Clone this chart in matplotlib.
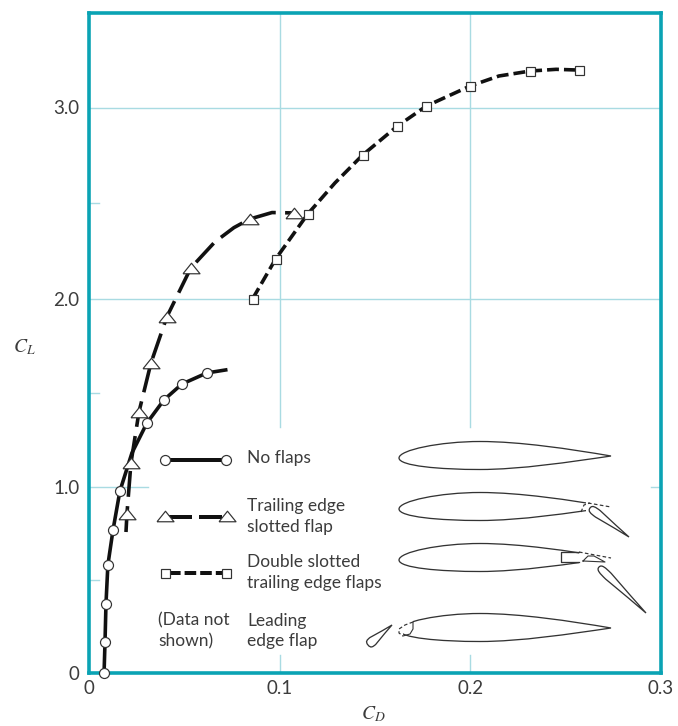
"""
Lift vs drag polar for an airfoil with different flap configurations
"""
import matplotlib
matplotlib.use('Agg')
import matplotlib.pyplot as plt
from matplotlib.patches import PathPatch, Rectangle
from matplotlib.path import Path
import numpy as np

# No flaps
cd_noflap = [0.0079, 0.0084, 0.0089, 0.0099, 0.0126, 0.0162, 0.0304, 0.0393, 0.0487, 0.0618]
cl_noflap = [0.0, 0.167, 0.371, 0.581, 0.769, 0.978, 1.34, 1.462, 1.546, 1.605]
cd_noflap_line = [0.0079, 0.0084, 0.0089, 0.0099, 0.0126, 0.0162, 0.0225, 0.0304, 0.0393, 0.0487,
                  0.0618, 0.0717]
cl_noflap_line = [0.0, 0.167, 0.371, 0.581, 0.769, 0.978, 1.18, 1.34, 1.462, 1.546, 1.605, 1.621]

# Trailing edge slotted flap
cd_slotted = [0.0199, 0.022, 0.0262, 0.0325, 0.0408, 0.0534, 0.0843, 0.1073]
cl_slotted = [0.855, 1.127, 1.398, 1.658, 1.902, 2.16, 2.416, 2.448]
cd_slotted_line = [0.0194, 0.0199, 0.022, 0.0262, 0.0325, 0.0408, 0.0534, 0.0660, 0.0760, 0.0843,
                   0.0960, 0.1073]
cl_slotted_line = [0.758, 0.855, 1.127, 1.398, 1.658, 1.902, 2.16, 2.296, 2.371, 2.416, 2.45, 2.448]

# Double slotted trailing edge flaps
cd_double = [0.0859, 0.0979, 0.1147, 0.1435, 0.1618, 0.177, 0.2, 0.2314, 0.2571]
cl_double = [2.0, 2.207, 2.442, 2.751, 2.903, 3.008, 3.113, 3.191, 3.196]
cd_double_line = [0.0859, 0.0979, 0.1147, 0.1290, 0.1435, 0.1618, 0.177, 0.2, 0.2150, 0.2314,
                  0.2450, 0.2571]
cl_double_line = [2.0, 2.207, 2.442, 2.605, 2.751, 2.903, 3.008, 3.113, 3.165, 3.191, 3.2, 3.196]

x_ticks = [0, 0.1, 0.2, 0.3]
x_ticklabels = ['0', '0.1', '0.2', '0.3']
y_ticks = [0, 1.0, 2.0, 3.0]
y_ticklabels = ['0', '1.0', '2.0', '3.0']

# the printed y axis is not quite even, so follow its tick spacing
y_scale_cl = [0, 1.0, 2.0, 3.0, 3.495]
y_scale_pos = [0, 186, 374.5, 565.5, 660]

TEAL = '#0aa3b4'
GRID = '#a9dbe2'
INK = '#111111'
TEXT = '#3c3c3c'
SKETCH = '#333333'
FONT = 'Lato'
W, H = 678, 726
X0, X1, Y0, Y1 = 89, 661, 673, 13
TRIANGLE = [(-1, -0.62), (1, -0.62), (0, 0.62), (-1, -0.62)]


def px(v):
    return v * 0.72


def airfoil_path(y_off):
    verts = [(399, 458), (399, 450), (440, 441.5), (480, 441.5),
             (520, 441.5), (570, 449), (611, 456),
             (570, 462), (520, 469.5), (480, 469.5),
             (440, 469.5), (399, 466), (399, 458)]
    codes = [Path.MOVETO] + [Path.CURVE4] * 12
    return Path([(x, y + y_off) for x, y in verts], codes)


def teardrop_path(nose, tail, width):
    nose, tail = np.array(nose, float), np.array(tail, float)
    d = tail - nose
    n = np.array([-d[1], d[0]]) / np.hypot(*d) * width / 2
    verts = [nose, nose + n * 1.0, nose + d * 0.08 + n, nose + d * 0.2 + n,
             nose + d * 0.5 + n * 0.6, nose + d * 0.8 + n * 0.2, tail,
             nose + d * 0.8 - n * 0.2, nose + d * 0.5 - n * 0.6, nose + d * 0.2 - n,
             nose + d * 0.08 - n, nose - n * 1.0 + d * 0.0, nose]
    return Path(verts, [Path.MOVETO] + [Path.CURVE4] * 12)


def draw_sketches(ov):
    style = dict(fc='none', ec=SKETCH, lw=px(1.3), zorder=5)
    dash = dict(color=SKETCH, lw=px(1.2), ls=(0, (3, 2)), zorder=5)

    # plain airfoil
    ov.add_patch(PathPatch(airfoil_path(0), **style))

    # slotted flap
    p = PathPatch(airfoil_path(51), **style)
    ov.add_patch(p)
    p.set_clip_path(Rectangle((395, 480), 191, 50, transform=ov.transData))
    ov.plot([588, 611], [503, 507], **dash)
    ov.plot([581, 584, 590], [512, 505, 503], **dash)
    ov.add_patch(PathPatch(teardrop_path((590, 508), (629, 537), 8), **style))

    # double slotted flap
    p = PathPatch(airfoil_path(102), **style)
    ov.add_patch(p)
    p.set_clip_path(Rectangle((395, 530), 184, 50, transform=ov.transData))
    ov.plot([579, 561, 561, 579], [552, 552, 562, 562], color=SKETCH, lw=px(1.3), zorder=5)
    ov.plot([579, 611], [552, 558], **dash)
    ov.plot([583, 588, 594, 605, 583], [561, 556, 556, 562, 561], color=SKETCH, lw=px(1.1), zorder=5)
    ov.add_patch(PathPatch(teardrop_path((599, 567), (646, 613), 8), **style))

    # leading edge flap, upper and lower surfaces stop at different places
    p = PathPatch(airfoil_path(172), **style)
    ov.add_patch(p)
    p.set_clip_path(Rectangle((413, 600), 210, 30, transform=ov.transData))
    p = PathPatch(airfoil_path(172), **style)
    ov.add_patch(p)
    p.set_clip_path(Rectangle((403, 630), 220, 30, transform=ov.transData))
    ov.plot([413, 405, 399, 399, 403], [622, 625, 629, 633, 636], **dash)
    ov.plot([413, 413, 410, 403], [622, 629, 634, 636], color=SKETCH, lw=px(1.1), zorder=5)
    ov.add_patch(PathPatch(teardrop_path((368, 645), (392, 625), 9), **style))


def main():
    plt.rcParams['font.family'] = [FONT, 'DejaVu Sans']
    plt.rcParams['mathtext.fontset'] = 'stix'

    fig = plt.figure(figsize=(W / 100, H / 100), dpi=100)
    ax = fig.add_axes([X0 / W, 1 - Y0 / H, (X1 - X0) / W, (Y0 - Y1) / H])
    ax.set_yscale('function', functions=(lambda v: np.interp(v, y_scale_cl, y_scale_pos),
                                         lambda v: np.interp(v, y_scale_pos, y_scale_cl)))
    ax.set_xlim(0, 0.3)
    ax.set_ylim(0, 3.495)

    for s in ax.spines.values():
        s.set_color(TEAL)
        s.set_linewidth(px(3.6))
        s.set_zorder(3)

    ax.set_xticks(x_ticks)
    ax.set_xticklabels(x_ticklabels)
    ax.set_yticks(y_ticks)
    ax.set_yticklabels(y_ticklabels)
    ax.minorticks_off()
    ax.tick_params(length=0, labelsize=13.5, labelcolor=TEXT, pad=7)
    ax.tick_params(axis='x', pad=5)

    # grid, with the lower part left open for the legend and sketches
    ax.axhline(2.0, color=GRID, lw=px(1.4), zorder=1)
    ax.axhline(3.0, color=GRID, lw=px(1.4), zorder=1)
    for xv in [0.1, 0.2]:
        ax.plot([xv, xv], [1.316, 3.6], color=GRID, lw=px(1.4), zorder=1)
        ax.plot([xv, xv], [0, 0.097], color=GRID, lw=px(1.4), zorder=1)
    ax.plot([0, 0.031], [1, 1], color=GRID, lw=px(1.4), zorder=1)
    ax.plot([0.295, 0.3], [1, 1], color=GRID, lw=px(1.4), zorder=1)
    for yv in [0.5, 1.5, 2.5]:
        ax.plot([0, 0.0055], [yv, yv], color=GRID, lw=px(1.4), zorder=1)

    # curves
    ax.plot(cd_noflap_line, cl_noflap_line, color=INK, lw=px(3.6), zorder=4)
    ax.plot(cd_slotted_line, cl_slotted_line, color=INK, lw=px(3.6), ls=(0, (7.2, 2.6)), zorder=4)
    ax.plot(cd_double_line, cl_double_line, color=INK, lw=px(3.6), ls=(0, (3.3, 1.4)), zorder=4)

    ax.plot(cd_noflap, cl_noflap, ls='none', marker='o', ms=px(10), mfc='white', mec='#333333',
            mew=px(1.2), zorder=6, clip_on=False)
    ax.plot(cd_slotted, cl_slotted, ls='none', marker=TRIANGLE, ms=px(17), mfc='white', mec='#333333',
            mew=px(1.2), zorder=5, clip_on=False)
    ax.plot(cd_double, cl_double, ls='none', marker='s', ms=px(9), mfc='white', mec='#333333',
            mew=px(1.2), zorder=6, clip_on=False)

    # overlay in pixel coords for legend and sketches
    ov = fig.add_axes([0, 0, 1, 1], facecolor='none')
    ov.set_xlim(0, W)
    ov.set_ylim(H, 0)
    ov.axis('off')

    mk = dict(mfc='white', mec='#333333', mew=px(1.2), zorder=6)
    ov.plot([165, 226], [459.5, 459.5], color=INK, lw=px(4), zorder=5)
    ov.plot([165, 226], [459.5, 459.5], ls='none', marker='o', ms=px(10), **mk)
    ov.plot([168, 191.5], [516.5, 516.5], color=INK, lw=px(4), solid_capstyle='butt', zorder=5)
    ov.plot([198.5, 222], [516.5, 516.5], color=INK, lw=px(4), solid_capstyle='butt', zorder=5)
    ov.plot([165, 226.5], [516, 516], ls='none', marker=TRIANGLE, ms=px(17), **mk)
    ov.plot([169, 222], [573, 573], color=INK, lw=px(4), ls=(0, (2.9, 1.0)), zorder=5)
    ov.plot([165, 226], [573, 573], ls='none', marker='s', ms=px(9), **mk)

    txt = dict(fontsize=12.5, color=TEXT, va='center', ha='left', linespacing=1.37)
    ov.text(247, 457.5, 'No flaps', **txt)
    ov.text(247, 516.5, 'Trailing edge\nslotted flap', **txt)
    ov.text(247, 572.5, 'Double slotted\ntrailing edge flaps', **txt)
    ov.text(158, 631, '(Data not\nshown)', **txt)
    ov.text(247, 631, 'Leading\nedge flap', **txt)

    ov.text(24, 347, r'$C_L$', fontsize=14, color=TEXT, ha='center', va='center')
    ov.text(373, 714, r'$C_D$', fontsize=14, color=TEXT, ha='center', va='center')

    draw_sketches(ov)

    fig.savefig('out.png', dpi=100)


if __name__ == '__main__':
    main()
